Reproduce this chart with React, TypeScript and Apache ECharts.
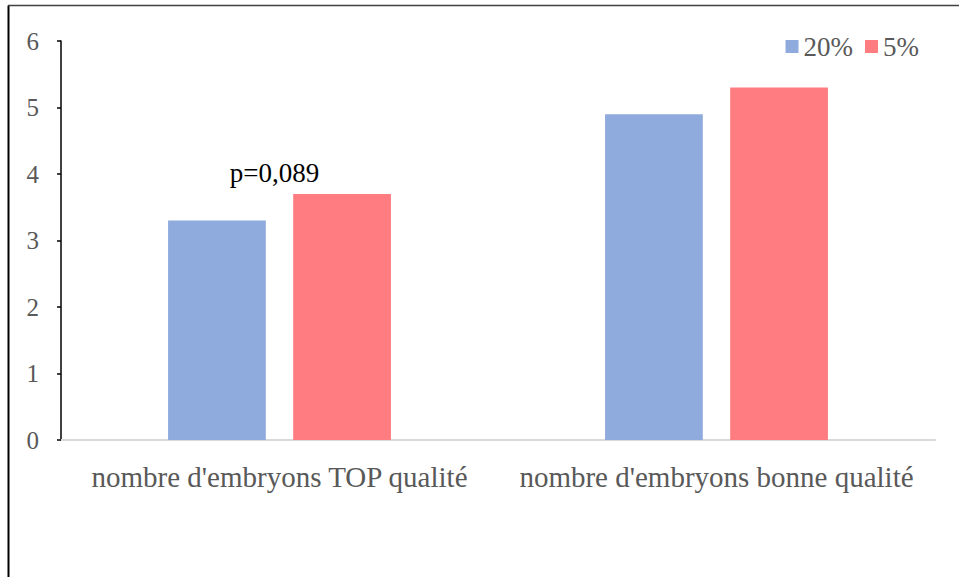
import React, { useEffect, useRef } from "react";
import * as echarts from "echarts";

const categories = ["nombre d'embryons TOP qualité", "nombre d'embryons bonne qualité"];
const seriesNames = ["20%", "5%"];
const values20 = [3.3, 4.9];
const values5 = [3.7, 5.3];
const yTicks = [0, 1, 2, 3, 4, 5, 6];
const annotation = { text: "p=0,089", category: 0, value: 3.99 };

export default function App() {
  const ref = useRef<HTMLDivElement>(null);
  useEffect(() => {
    document.body.style.margin = "0";
    const el = ref.current!;
    const chart = echarts.init(el, null, { renderer: "svg" });
    const font = "'Liberation Serif', 'Times New Roman', serif";
    chart.setOption({
      animation: false,
      backgroundColor: "#ffffff",
      textStyle: { fontFamily: font },
      legend: {
        data: seriesNames,
        right: 35,
        top: 28,
        itemWidth: 13,
        itemHeight: 13,
        itemGap: 12,
        icon: "rect",
        textStyle: { fontFamily: font, fontSize: 27, color: "#595959" },
      },
      grid: { left: 61, right: 24, top: 41, bottom: 137, containLabel: false },
      xAxis: {
        type: "category",
        data: categories,
        axisLine: { lineStyle: { color: "#d9d9d9", width: 2 } },
        axisTick: { show: false },
        axisLabel: {
          fontFamily: font,
          fontSize: 29,
          color: "#595959",
          margin: 22,
          interval: 0,
          hideOverlap: false,
        },
        splitLine: { show: false },
      },
      yAxis: {
        type: "value",
        min: yTicks[0],
        max: yTicks[yTicks.length - 1],
        interval: 1,
        axisLine: { show: true, lineStyle: { color: "#000000", width: 1.5 } },
        axisTick: { show: true, inside: false, length: 4, lineStyle: { color: "#000000", width: 1.5 } },
        axisLabel: { fontFamily: font, fontSize: 25, color: "#595959", margin: 22 },
        splitLine: { show: false },
      },
      series: [
        {
          name: seriesNames[0],
          type: "bar",
          data: values20,
          barGap: "28%",
          barCategoryGap: "49%",
          itemStyle: { color: "#8faadc" },
        },
        {
          name: seriesNames[1],
          type: "bar",
          data: values5,
          barGap: "28%",
          barCategoryGap: "49%",
          itemStyle: { color: "#ff7c80" },
        },
      ],
    });
    const p = chart.convertToPixel({ gridIndex: 0 }, [annotation.category, annotation.value]) as number[];
    chart.setOption({
      graphic: [
        {
          type: "line",
          shape: { x1: 8.5, y1: 5.5, x2: 8.5, y2: 577 },
          style: { stroke: "#000000", lineWidth: 2 },
        },
        {
          type: "line",
          shape: { x1: 8, y1: 5.5, x2: 959, y2: 5.5 },
          style: { stroke: "#404040", lineWidth: 1.5 },
        },
        {
          type: "text",
          x: p[0] - 5,
          y: p[1] - 2,
          style: {
            text: annotation.text,
            fontFamily: font,
            fontSize: 27,
            fill: "#000000",
            align: "center",
            verticalAlign: "middle",
          },
        },
      ],
    });
    return () => chart.dispose();
  }, []);
  return <div ref={ref} style={{ width: 959, height: 577 }} />;
}
